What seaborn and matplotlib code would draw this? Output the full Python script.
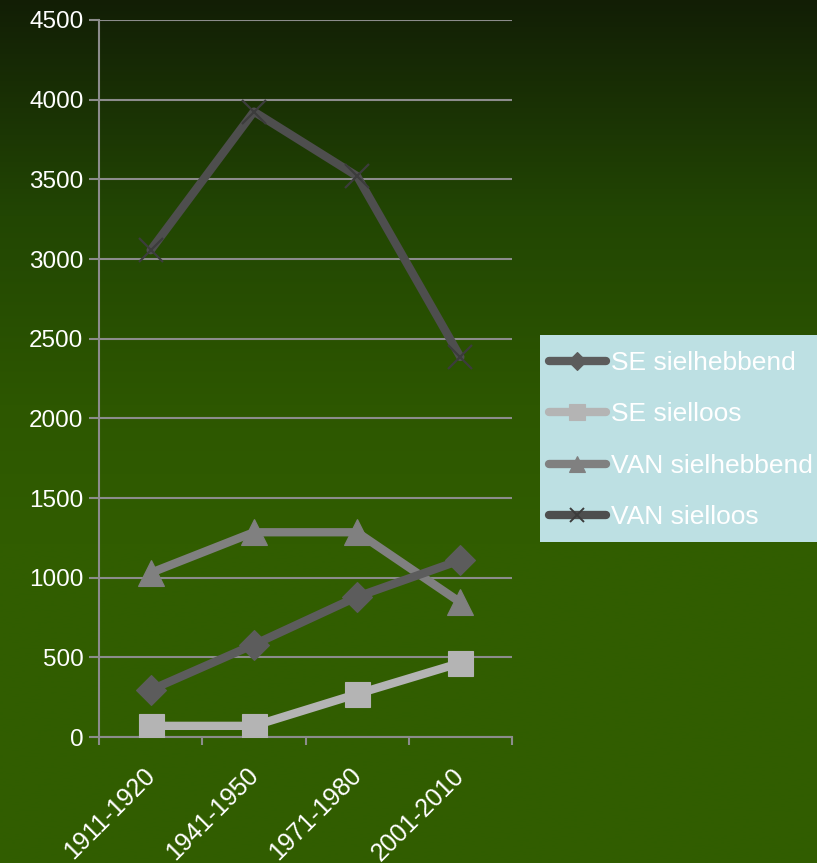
import numpy as np
import pandas as pd
import matplotlib
matplotlib.use("Agg")
import matplotlib.pyplot as plt
import matplotlib.transforms as mtransforms
from matplotlib.lines import Line2D
from matplotlib.patches import Rectangle
import seaborn as sns

# Decades on the horizontal axis
periods = ["1911-1920", "1941-1950", "1971-1980", "2001-2010"]

# Counts per series
se_sielhebbend = [295, 580, 880, 1110]
se_sielloos = [70, 70, 270, 465]
van_sielhebbend = [1030, 1285, 1285, 845]
van_sielloos = [3055, 3925, 3520, 2385]

series_names = ["SE sielhebbend", "SE sielloos", "VAN sielhebbend", "VAN sielloos"]
series_values = [se_sielhebbend, se_sielloos, van_sielhebbend, van_sielloos]
y_ticks = [0, 500, 1000, 1500, 2000, 2500, 3000, 3500, 4000, 4500]

colors = {"SE sielhebbend": "#5c5c5c", "SE sielloos": "#b4b4b4",
          "VAN sielhebbend": "#808080", "VAN sielloos": "#4e4e4e"}
markers = {"SE sielhebbend": "D", "SE sielloos": "s",
           "VAN sielhebbend": "^", "VAN sielloos": "x"}
msizes = {"SE sielhebbend": 15, "SE sielloos": 18,
          "VAN sielhebbend": 19, "VAN sielloos": 17}

df = pd.DataFrame({
    "period": np.tile(np.arange(len(periods)), len(series_names)),
    "series": np.repeat(series_names, len(periods)),
    "value": np.concatenate(series_values),
})

sns.set_theme(style="white")
plt.rcParams["font.family"] = ["Liberation Sans", "DejaVu Sans"]

W, H = 817, 863
fig = plt.figure(figsize=(W / 100, H / 100), dpi=100)

# Dark-to-green vertical gradient behind everything
bg = fig.add_axes([0, 0, 1, 1], zorder=-10)
ypos = np.array([0.0, 0.25, 0.47, 0.63, 1.0])
stops = np.array([[18, 30, 6], [34, 70, 3], [45, 87, 0], [49, 93, 0], [49, 94, 0]]) / 255.0
yy = np.linspace(0, 1, 400)
grad = np.stack([np.interp(yy, ypos, stops[:, c]) for c in range(3)], axis=-1)
bg.imshow(grad[:, None, :], aspect="auto", extent=[0, 1, 1, 0], interpolation="bilinear")
bg.set_xlim(0, 1)
bg.set_ylim(1, 0)
bg.axis("off")

ax = fig.add_axes([99 / W, 1 - 737 / H, (512 - 99) / W, (737 - 20) / H])
ax.patch.set_alpha(0)

order = ["VAN sielloos", "VAN sielhebbend", "SE sielhebbend", "SE sielloos"]
for name in order:
    sub = df[df["series"] == name]
    sns.lineplot(data=sub, x="period", y="value", ax=ax, color=colors[name],
                 linewidth=6.0, legend=False, zorder=3)
    mew = 1.6 if name == "VAN sielloos" else 0.8
    ax.plot(sub["period"], sub["value"], linestyle="none", marker=markers[name],
            markersize=msizes[name], color=colors[name],
            markeredgecolor="#3c3c3c" if name == "VAN sielloos" else colors[name],
            markeredgewidth=mew, zorder=4)

ax.set_xlim(-0.5, len(periods) - 0.5)
ax.set_ylim(0, 4500)
ax.set_yticks(y_ticks)
ax.set_yticklabels([str(t) for t in y_ticks])
ax.set_xticks(range(len(periods)))
ax.set_xticklabels(periods, rotation=45, ha="right", va="top", rotation_mode="anchor")
ax.set_xticks(np.arange(-0.5, len(periods), 1.0), minor=True)
ax.tick_params(axis="x", which="major", length=0, pad=19, labelsize=18, labelcolor="white")
ax.tick_params(axis="x", which="minor", length=5.8, width=1.5, color="#8c8c8c", direction="out", bottom=True)
ax.tick_params(axis="y", length=7.2, width=1.5, color="#8c8c8c", direction="out", left=True,
               labelsize=17.5, labelcolor="white", pad=4)
ax.set_xlabel("")
ax.set_ylabel("")

shift = mtransforms.ScaledTranslation(-8 / 100, 0, fig.dpi_scale_trans)
for lbl in ax.get_xticklabels():
    lbl.set_transform(lbl.get_transform() + shift)

ax.grid(axis="y", color="#8c8c8c", linewidth=1.5, zorder=1)
ax.set_axisbelow(True)
for s in ["top", "right"]:
    ax.spines[s].set_visible(False)
for s in ["left", "bottom"]:
    ax.spines[s].set_color("#8c8c8c")
    ax.spines[s].set_linewidth(1.5)

# Legend panel on the right: light box plus frameless legend on top
fig.patches.append(Rectangle((540 / W, 1 - 542 / H), (W - 540) / W, (542 - 335) / H,
                             transform=fig.transFigure, facecolor="#bde0e3",
                             edgecolor="none", zorder=1))
handles = [Line2D([0], [0], color=colors[n], linewidth=6, marker=markers[n],
                  markersize=msizes[n] * 0.62, solid_capstyle="round",
                  markeredgecolor="#3c3c3c" if n == "VAN sielloos" else colors[n],
                  markeredgewidth=1.4 if n == "VAN sielloos" else 0.8)
           for n in series_names]
leg = fig.legend(handles, series_names, loc="upper left",
                 bbox_to_anchor=(549 / W, 1 - 351 / H), borderaxespad=0,
                 frameon=False, fontsize=19, labelcolor="white", handlelength=2.15,
                 handletextpad=0.2, labelspacing=1.04, borderpad=0.0)
leg.set_zorder(5)

fig.savefig("out.png", dpi=100)
